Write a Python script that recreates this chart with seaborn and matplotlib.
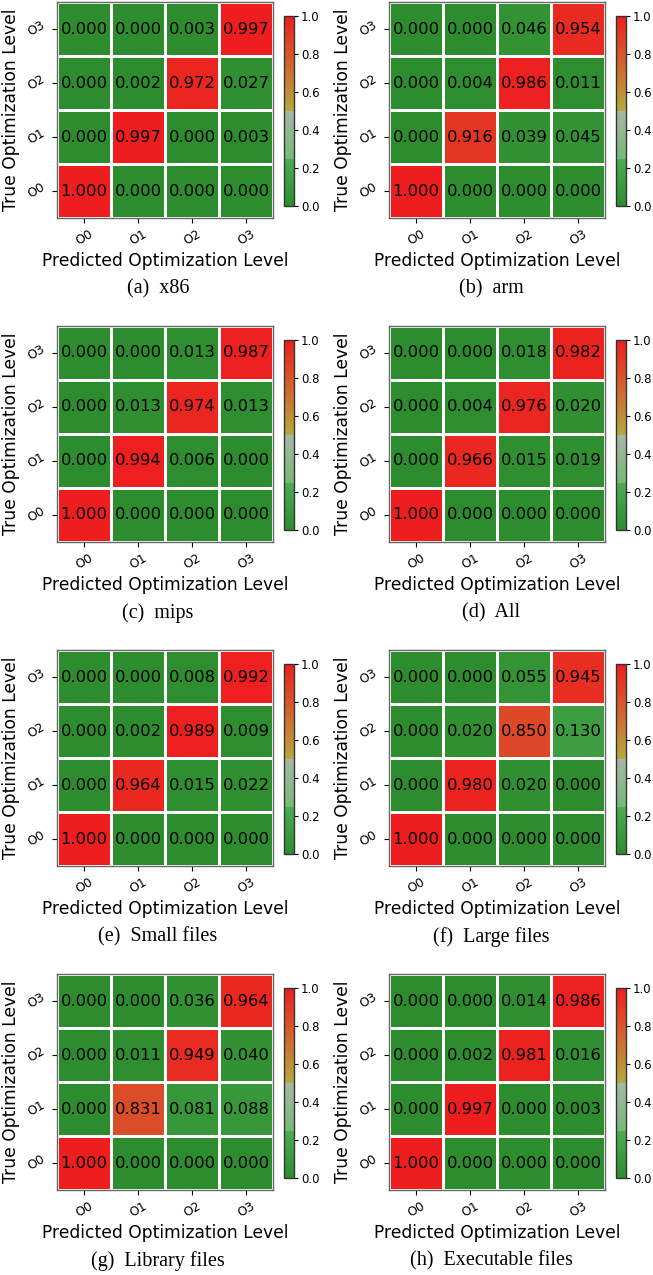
import numpy as np
import pandas as pd
import matplotlib
matplotlib.use("Agg")
import matplotlib.pyplot as plt
import seaborn as sns
from matplotlib.colors import ListedColormap

# labels for both axes
levels = ["O0", "O1", "O2", "O3"]

# confusion matrices, rows = true level O0..O3, cols = predicted O0..O3
x86 = [[1.000, 0.000, 0.000, 0.000],
       [0.000, 0.997, 0.000, 0.003],
       [0.000, 0.002, 0.972, 0.027],
       [0.000, 0.000, 0.003, 0.997]]
arm = [[1.000, 0.000, 0.000, 0.000],
       [0.000, 0.916, 0.039, 0.045],
       [0.000, 0.004, 0.986, 0.011],
       [0.000, 0.000, 0.046, 0.954]]
mips = [[1.000, 0.000, 0.000, 0.000],
        [0.000, 0.994, 0.006, 0.000],
        [0.000, 0.013, 0.974, 0.013],
        [0.000, 0.000, 0.013, 0.987]]
all_arch = [[1.000, 0.000, 0.000, 0.000],
            [0.000, 0.966, 0.015, 0.019],
            [0.000, 0.004, 0.976, 0.020],
            [0.000, 0.000, 0.018, 0.982]]
small_files = [[1.000, 0.000, 0.000, 0.000],
               [0.000, 0.964, 0.015, 0.022],
               [0.000, 0.002, 0.989, 0.009],
               [0.000, 0.000, 0.008, 0.992]]
large_files = [[1.000, 0.000, 0.000, 0.000],
               [0.000, 0.980, 0.020, 0.000],
               [0.000, 0.020, 0.850, 0.130],
               [0.000, 0.000, 0.055, 0.945]]
library_files = [[1.000, 0.000, 0.000, 0.000],
                 [0.000, 0.831, 0.081, 0.088],
                 [0.000, 0.011, 0.949, 0.040],
                 [0.000, 0.000, 0.036, 0.964]]
exec_files = [[1.000, 0.000, 0.000, 0.000],
              [0.000, 0.997, 0.000, 0.003],
              [0.000, 0.002, 0.981, 0.016],
              [0.000, 0.000, 0.014, 0.986]]

matrices = [x86, arm, mips, all_arch, small_files, large_files, library_files, exec_files]
captions = ["(a)  x86", "(b)  arm", "(c)  mips", "(d)  All",
            "(e)  Small files", "(f)  Large files", "(g)  Library files", "(h)  Executable files"]

# green -> pale green | olive -> red, with jumps at 0.25 and 0.5
stops = [0.0, 0.2499, 0.25, 0.4999, 0.5, 1.0]
rgb = np.array([[45, 140, 45], [78, 172, 82], [118, 185, 118],
                [168, 182, 168], [180, 170, 62], [238, 30, 30]]) / 255.0
t = np.linspace(0, 1, 256)
cmap = ListedColormap(np.column_stack([np.interp(t, stops, rgb[:, k]) for k in range(3)]))

W, H = 653, 1275
fig = plt.figure(figsize=(W / 100, H / 100), dpi=100)

for i, (mat, cap) in enumerate(zip(matrices, captions)):
    r, c = divmod(i, 2)
    top = 2 + r * 324
    left = 57 + c * 332
    ax = fig.add_axes([left / W, (H - top - 216) / H, 216 / W, 216 / H])
    cax = fig.add_axes([(284 + c * 332) / W, (H - top - 14 - 190) / H, 10 / W, 190 / H])

    df = pd.DataFrame(mat, index=levels, columns=levels)
    sns.heatmap(df, ax=ax, cbar_ax=cax, cmap=cmap, vmin=0, vmax=1,
                annot=True, fmt=".3f", annot_kws={"size": 11.8, "color": "black"},
                linewidths=0.8, linecolor="white")
    ax.invert_yaxis()

    ax.set_xticklabels(levels, rotation=30, fontsize=9)
    ax.set_yticklabels(levels, rotation=30, fontsize=9)
    ax.set_xlabel("Predicted Optimization Level", fontsize=12.3, labelpad=3)
    ax.set_ylabel("True Optimization Level", fontsize=12.3)
    for s in ax.spines.values():
        s.set_visible(True)
        s.set_color("#666666")
        s.set_linewidth(1)

    cbar = ax.collections[0].colorbar
    cbar.set_ticks([0.0, 0.2, 0.4, 0.6, 0.8, 1.0])
    cbar.ax.set_yticklabels(["0.0", "0.2", "0.4", "0.6", "0.8", "1.0"])
    cbar.ax.tick_params(labelsize=8.5, length=3, pad=2)
    cbar.outline.set_visible(True)
    cbar.outline.set_edgecolor("#333333")
    cbar.outline.set_linewidth(1)

    fig.text((158 + c * 333) / W, 1 - (289 + r * 324) / H, cap,
             ha="center", va="center", fontsize=14.5, family="Liberation Serif")

fig.savefig("out.png", dpi=100)
